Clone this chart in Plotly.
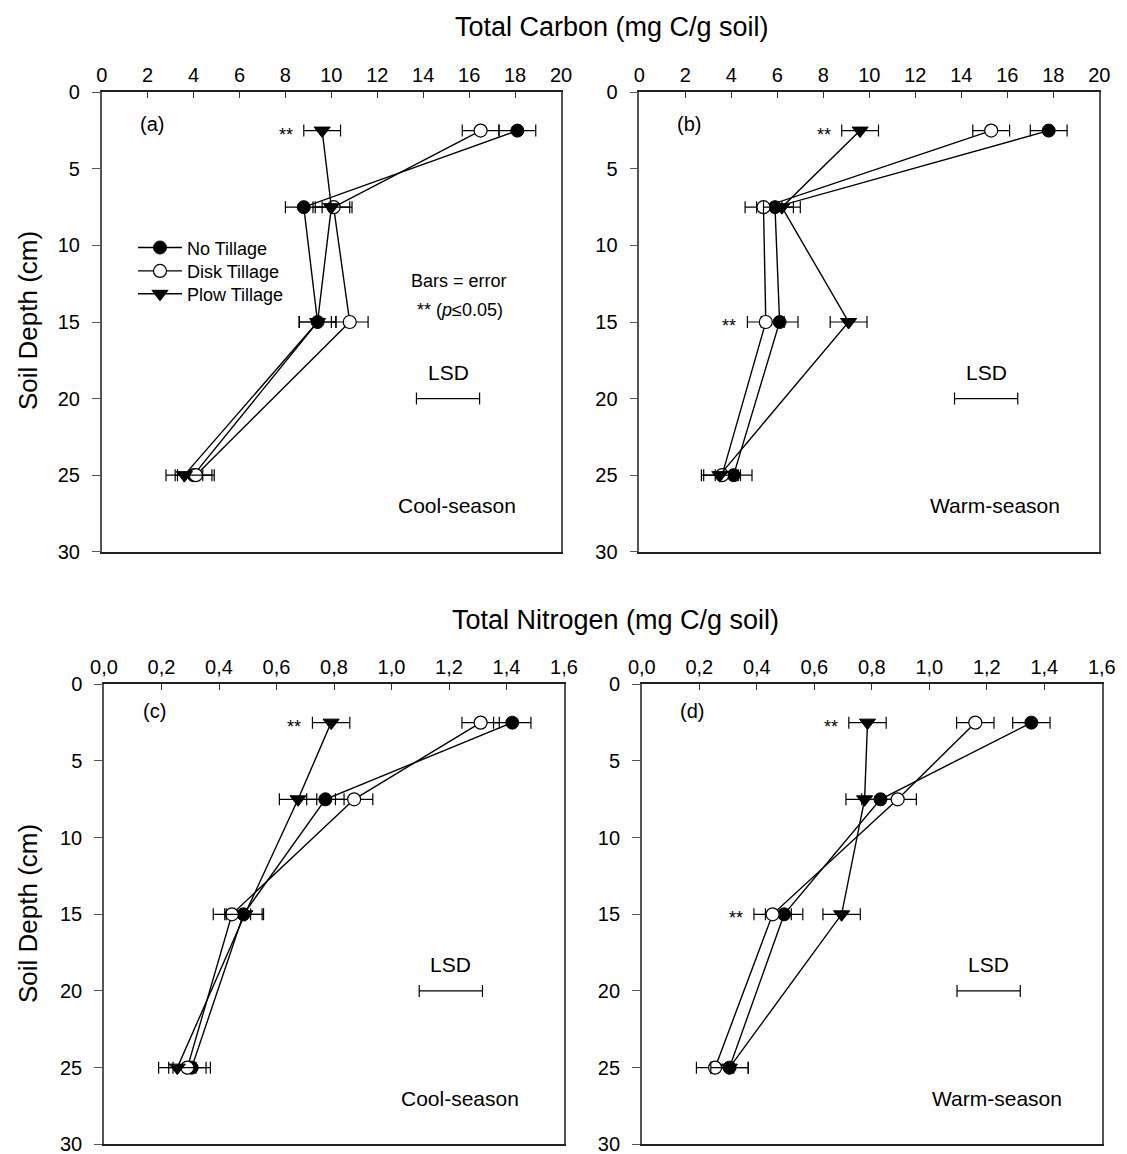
import plotly.graph_objects as go

W, H = 1127, 1154
FONT = "Liberation Sans, Arial, sans-serif"

depth = [2.5, 7.5, 15, 25]

# Total carbon (mg C/g soil), cool- and warm-season
c_cool_no = [18.1, 8.8, 9.4, 4.0]
c_cool_disk = [16.5, 10.1, 10.8, 4.1]
c_cool_plow = [9.6, 10.0, 9.4, 3.6]
c_warm_no = [17.8, 5.9, 6.1, 4.1]
c_warm_disk = [15.3, 5.4, 5.5, 3.6]
c_warm_plow = [9.6, 6.2, 9.1, 3.5]
c_err = [0.8, 0.8, 0.8, 0.8]
c_lsd = 2.75

# Total nitrogen, cool- and warm-season
n_cool_no = [1.42, 0.77, 0.485, 0.305]
n_cool_disk = [1.31, 0.87, 0.445, 0.29]
n_cool_plow = [0.79, 0.675, 0.49, 0.255]
n_warm_no = [1.355, 0.83, 0.495, 0.305]
n_warm_disk = [1.16, 0.89, 0.455, 0.255]
n_warm_plow = [0.785, 0.775, 0.695, 0.305]
n_err = [0.065, 0.065, 0.065, 0.065]
n_lsd = 0.22

carbon_ticks = [0, 2, 4, 6, 8, 10, 12, 14, 16, 18, 20]
carbon_labels = ["0", "2", "4", "6", "8", "10", "12", "14", "16", "18", "20"]
nitrogen_ticks = [0, 0.2, 0.4, 0.6, 0.8, 1.0, 1.2, 1.4, 1.6]
nitrogen_labels = ["0,0", "0,2", "0,4", "0,6", "0,8", "1,0", "1,2", "1,4", "1,6"]
depth_ticks = [0, 5, 10, 15, 20, 25, 30]

treatments = ["No Tillage", "Disk Tillage", "Plow Tillage"]

panels = [
    # (axis suffix, series, errors, lsd, x range, ticks, labels, tag, season, significant points)
    ("", [c_cool_no, c_cool_disk, c_cool_plow], c_err, c_lsd, [0, 20],
     carbon_ticks, carbon_labels, "(a)", "Cool-season", [(2, 0)]),
    ("2", [c_warm_no, c_warm_disk, c_warm_plow], c_err, c_lsd, [0, 20],
     carbon_ticks, carbon_labels, "(b)", "Warm-season", [(2, 0), (1, 2)]),
    ("3", [n_cool_no, n_cool_disk, n_cool_plow], n_err, n_lsd, [0, 1.6],
     nitrogen_ticks, nitrogen_labels, "(c)", "Cool-season", [(2, 0)]),
    ("4", [n_warm_no, n_warm_disk, n_warm_plow], n_err, n_lsd, [0, 1.6],
     nitrogen_ticks, nitrogen_labels, "(d)", "Warm-season", [(2, 0), (1, 2)]),
]

# pixel boxes of the four plotting areas: left, right, top, bottom
boxes = [
    (101.7, 561.0, 92.3, 551.7),
    (639.3, 1099.3, 92.3, 551.7),
    (104.0, 564.0, 684.3, 1144.3),
    (641.8, 1101.8, 684.3, 1144.3),
]

marker_styles = [
    dict(symbol="circle", size=13, color="black", line=dict(color="black", width=1)),
    dict(symbol="circle", size=13, color="white", line=dict(color="black", width=1.2)),
    dict(symbol="triangle-down", size=14, color="black", line=dict(color="black", width=1)),
]

# one small legend per treatment, stacked inside panel (a)
legend_names = ["legend", "legend2", "legend3"]
legend_rows_px = [248.3, 271.7, 294.6]

fig = go.Figure()
annotations = []

for pi, (sfx, series, err, lsd, xr, tv, tt, tag, season, sig) in enumerate(panels):
    xa, ya = "x" + sfx, "y" + sfx
    for si, vals in enumerate(series):
        fig.add_trace(go.Scatter(
            x=vals, y=depth, xaxis=xa, yaxis=ya,
            mode="lines+markers", name=treatments[si],
            showlegend=(pi == 0), legend=legend_names[si],
            line=dict(color="black", width=1.4),
            marker=marker_styles[si],
            error_x=dict(type="data", array=err, symmetric=True,
                         color="black", thickness=1.2, width=6),
        ))
    # LSD bar
    span = xr[1] - xr[0]
    lsd_center = xr[0] + 0.754 * span
    fig.add_trace(go.Scatter(
        x=[lsd_center], y=[20], xaxis=xa, yaxis=ya, mode="markers",
        marker=dict(size=1, color="rgba(0,0,0,0)"), showlegend=False, hoverinfo="skip",
        error_x=dict(type="data", array=[lsd / 2], symmetric=True,
                     color="black", thickness=1.2, width=6),
    ))
    annotations.append(dict(x=lsd_center, y=18.3, xref=xa, yref=ya, text="LSD",
                            showarrow=False, font=dict(size=21, family=FONT, color="black")))
    annotations.append(dict(x=xr[0] + 0.773 * span, y=27.0, xref=xa, yref=ya, text=season,
                            showarrow=False, font=dict(size=21, family=FONT, color="black")))
    annotations.append(dict(x=xr[0] + 0.109 * span, y=2.1 if pi < 2 else 1.75, xref=xa, yref=ya,
                            text=tag, showarrow=False,
                            font=dict(size=20, family=FONT, color="black")))
    for si, di in sig:
        annotations.append(dict(x=series[si][di] - err[di], y=depth[di], xref=xa, yref=ya,
                                text="**", showarrow=False, xanchor="right", xshift=-9, yshift=-4,
                                font=dict(size=18, family=FONT, color="black")))

annotations.append(dict(x=15.58, y=12.35, xref="x", yref="y", text="Bars = error",
                        showarrow=False, font=dict(size=18, family=FONT, color="black")))
annotations.append(dict(x=15.6, y=14.2, xref="x", yref="y", text="** (<i>p</i>≤0.05)",
                        showarrow=False, font=dict(size=18, family=FONT, color="black")))

# figure titles and depth axis titles
annotations.append(dict(x=612 / W, y=1 - 27 / H, xref="paper", yref="paper",
                        xanchor="center", yanchor="middle",
                        text="Total Carbon (mg C/g soil)", showarrow=False,
                        font=dict(size=27, family=FONT, color="black")))
annotations.append(dict(x=615 / W, y=1 - 620 / H, xref="paper", yref="paper",
                        xanchor="center", yanchor="middle",
                        text="Total Nitrogen (mg C/g soil)", showarrow=False,
                        font=dict(size=27, family=FONT, color="black")))
for yc in (321, 914):
    annotations.append(dict(x=28 / W, y=1 - yc / H, xref="paper", yref="paper",
                            xanchor="center", yanchor="middle",
                            text="Soil Depth (cm)", textangle=-90, showarrow=False,
                            font=dict(size=26, family=FONT, color="black")))

layout = dict(
    width=W, height=H, margin=dict(l=0, r=0, t=0, b=0, autoexpand=False),
    paper_bgcolor="white", plot_bgcolor="white",
    font=dict(family=FONT, color="black"),
    annotations=annotations,
)

for name, row in zip(legend_names, legend_rows_px):
    layout[name] = dict(x=133 / W, y=1 - (row - 19) / H, xanchor="left", yanchor="top",
                        bgcolor="rgba(0,0,0,0)", borderwidth=0, itemwidth=44,
                        font=dict(size=18, family=FONT, color="black"))

for pi, (sfx, series, err, lsd, xr, tv, tt, tag, season, sig) in enumerate(panels):
    l, r, t, b = boxes[pi]
    layout["xaxis" + sfx] = dict(
        domain=[l / W, r / W], range=xr, side="top", anchor="y" + sfx,
        tickvals=tv, ticktext=tt, ticks="inside", ticklen=6, tickwidth=1.2,
        tickcolor="#333", showline=True, linecolor="#222", linewidth=1.5, mirror=True,
        showgrid=False, zeroline=False, ticklabelstandoff=1, ticklabeloverflow="allow",
        tickfont=dict(size=20, family=FONT, color="black"),
    )
    layout["yaxis" + sfx] = dict(
        domain=[1 - b / H, 1 - t / H], range=[30, 0], anchor="x" + sfx,
        tickvals=depth_ticks, ticks="outside", ticklen=8, tickwidth=1.2,
        tickcolor="#555", showline=True, linecolor="#555", linewidth=1.5, mirror=True,
        showgrid=False, zeroline=False, ticklabelstandoff=8, ticklabeloverflow="allow",
        tickfont=dict(size=20, family=FONT, color="black"),
    )

fig.update_layout(**layout)
fig.write_html("out.html", post_script="document.body.style.margin = '0';")
